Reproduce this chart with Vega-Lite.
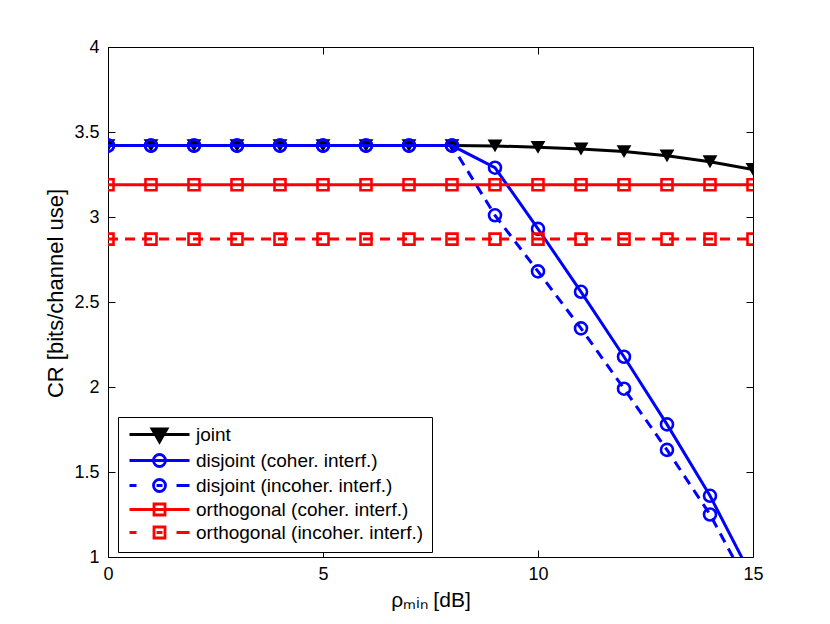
{
  "$schema": "https://vega.github.io/schema/vega-lite/v6.json",
  "width": 645,
  "height": 510,
  "autosize": {"type": "none"},
  "padding": {"left": 108, "top": 47, "right": 77, "bottom": 67},
  "background": "white",
  "data": {
    "values": [
      {"rho": 0, "cr": 3.42, "scheme": "joint"},
      {"rho": 1, "cr": 3.42, "scheme": "joint"},
      {"rho": 2, "cr": 3.42, "scheme": "joint"},
      {"rho": 3, "cr": 3.42, "scheme": "joint"},
      {"rho": 4, "cr": 3.42, "scheme": "joint"},
      {"rho": 5, "cr": 3.42, "scheme": "joint"},
      {"rho": 6, "cr": 3.42, "scheme": "joint"},
      {"rho": 7, "cr": 3.42, "scheme": "joint"},
      {"rho": 8, "cr": 3.42, "scheme": "joint"},
      {"rho": 9, "cr": 3.418, "scheme": "joint"},
      {"rho": 10, "cr": 3.41, "scheme": "joint"},
      {"rho": 11, "cr": 3.4, "scheme": "joint"},
      {"rho": 12, "cr": 3.385, "scheme": "joint"},
      {"rho": 13, "cr": 3.36, "scheme": "joint"},
      {"rho": 14, "cr": 3.325, "scheme": "joint"},
      {"rho": 15, "cr": 3.28, "scheme": "joint"},
      {"rho": 0, "cr": 3.42, "scheme": "disjoint (coher. interf.)"},
      {"rho": 1, "cr": 3.42, "scheme": "disjoint (coher. interf.)"},
      {"rho": 2, "cr": 3.42, "scheme": "disjoint (coher. interf.)"},
      {"rho": 3, "cr": 3.42, "scheme": "disjoint (coher. interf.)"},
      {"rho": 4, "cr": 3.42, "scheme": "disjoint (coher. interf.)"},
      {"rho": 5, "cr": 3.42, "scheme": "disjoint (coher. interf.)"},
      {"rho": 6, "cr": 3.42, "scheme": "disjoint (coher. interf.)"},
      {"rho": 7, "cr": 3.42, "scheme": "disjoint (coher. interf.)"},
      {"rho": 8, "cr": 3.42, "scheme": "disjoint (coher. interf.)"},
      {"rho": 9, "cr": 3.29, "scheme": "disjoint (coher. interf.)"},
      {"rho": 10, "cr": 2.93, "scheme": "disjoint (coher. interf.)"},
      {"rho": 11, "cr": 2.56, "scheme": "disjoint (coher. interf.)"},
      {"rho": 12, "cr": 2.178, "scheme": "disjoint (coher. interf.)"},
      {"rho": 13, "cr": 1.78, "scheme": "disjoint (coher. interf.)"},
      {"rho": 14, "cr": 1.36, "scheme": "disjoint (coher. interf.)"},
      {"rho": 15, "cr": 0.87, "scheme": "disjoint (coher. interf.)"},
      {"rho": 0, "cr": 3.42, "scheme": "disjoint (incoher. interf.)"},
      {"rho": 1, "cr": 3.42, "scheme": "disjoint (incoher. interf.)"},
      {"rho": 2, "cr": 3.42, "scheme": "disjoint (incoher. interf.)"},
      {"rho": 3, "cr": 3.42, "scheme": "disjoint (incoher. interf.)"},
      {"rho": 4, "cr": 3.42, "scheme": "disjoint (incoher. interf.)"},
      {"rho": 5, "cr": 3.42, "scheme": "disjoint (incoher. interf.)"},
      {"rho": 6, "cr": 3.42, "scheme": "disjoint (incoher. interf.)"},
      {"rho": 7, "cr": 3.42, "scheme": "disjoint (incoher. interf.)"},
      {"rho": 8, "cr": 3.42, "scheme": "disjoint (incoher. interf.)"},
      {"rho": 9, "cr": 3.01, "scheme": "disjoint (incoher. interf.)"},
      {"rho": 10, "cr": 2.68, "scheme": "disjoint (incoher. interf.)"},
      {"rho": 11, "cr": 2.345, "scheme": "disjoint (incoher. interf.)"},
      {"rho": 12, "cr": 1.99, "scheme": "disjoint (incoher. interf.)"},
      {"rho": 13, "cr": 1.63, "scheme": "disjoint (incoher. interf.)"},
      {"rho": 14, "cr": 1.25, "scheme": "disjoint (incoher. interf.)"},
      {"rho": 15, "cr": 0.78, "scheme": "disjoint (incoher. interf.)"},
      {"rho": 0, "cr": 3.19, "scheme": "orthogonal (coher. interf.)"},
      {"rho": 1, "cr": 3.19, "scheme": "orthogonal (coher. interf.)"},
      {"rho": 2, "cr": 3.19, "scheme": "orthogonal (coher. interf.)"},
      {"rho": 3, "cr": 3.19, "scheme": "orthogonal (coher. interf.)"},
      {"rho": 4, "cr": 3.19, "scheme": "orthogonal (coher. interf.)"},
      {"rho": 5, "cr": 3.19, "scheme": "orthogonal (coher. interf.)"},
      {"rho": 6, "cr": 3.19, "scheme": "orthogonal (coher. interf.)"},
      {"rho": 7, "cr": 3.19, "scheme": "orthogonal (coher. interf.)"},
      {"rho": 8, "cr": 3.19, "scheme": "orthogonal (coher. interf.)"},
      {"rho": 9, "cr": 3.19, "scheme": "orthogonal (coher. interf.)"},
      {"rho": 10, "cr": 3.19, "scheme": "orthogonal (coher. interf.)"},
      {"rho": 11, "cr": 3.19, "scheme": "orthogonal (coher. interf.)"},
      {"rho": 12, "cr": 3.19, "scheme": "orthogonal (coher. interf.)"},
      {"rho": 13, "cr": 3.19, "scheme": "orthogonal (coher. interf.)"},
      {"rho": 14, "cr": 3.19, "scheme": "orthogonal (coher. interf.)"},
      {"rho": 15, "cr": 3.19, "scheme": "orthogonal (coher. interf.)"},
      {"rho": 0, "cr": 2.87, "scheme": "orthogonal (incoher. interf.)"},
      {"rho": 1, "cr": 2.87, "scheme": "orthogonal (incoher. interf.)"},
      {"rho": 2, "cr": 2.87, "scheme": "orthogonal (incoher. interf.)"},
      {"rho": 3, "cr": 2.87, "scheme": "orthogonal (incoher. interf.)"},
      {"rho": 4, "cr": 2.87, "scheme": "orthogonal (incoher. interf.)"},
      {"rho": 5, "cr": 2.87, "scheme": "orthogonal (incoher. interf.)"},
      {"rho": 6, "cr": 2.87, "scheme": "orthogonal (incoher. interf.)"},
      {"rho": 7, "cr": 2.87, "scheme": "orthogonal (incoher. interf.)"},
      {"rho": 8, "cr": 2.87, "scheme": "orthogonal (incoher. interf.)"},
      {"rho": 9, "cr": 2.87, "scheme": "orthogonal (incoher. interf.)"},
      {"rho": 10, "cr": 2.87, "scheme": "orthogonal (incoher. interf.)"},
      {"rho": 11, "cr": 2.87, "scheme": "orthogonal (incoher. interf.)"},
      {"rho": 12, "cr": 2.87, "scheme": "orthogonal (incoher. interf.)"},
      {"rho": 13, "cr": 2.87, "scheme": "orthogonal (incoher. interf.)"},
      {"rho": 14, "cr": 2.87, "scheme": "orthogonal (incoher. interf.)"},
      {"rho": 15, "cr": 2.87, "scheme": "orthogonal (incoher. interf.)"}
    ]
  },
  "layer": [
    {
      "encoding": {
        "x": {
          "field": "rho", "type": "quantitative",
          "scale": {"domain": [0, 15], "nice": false, "zero": false},
          "axis": {"orient": "bottom", "values": [0, 5, 10, 15], "labelFlush": false, "title": "ρₘᵢₙ [dB]", "labelPadding": 15, "titlePadding": 6}
        },
        "y": {
          "field": "cr", "type": "quantitative",
          "scale": {"domain": [1, 4], "nice": false, "zero": false},
          "axis": {"orient": "left", "values": [1, 1.5, 2, 2.5, 3, 3.5, 4], "labelFlush": false, "format": "~g", "title": "CR [bits/channel use]", "titleFontSize": 22, "titleY": 246, "labelPadding": 16, "titlePadding": 6}
        },
        "color": {
          "field": "scheme", "type": "nominal",
          "scale": {
            "domain": ["joint", "disjoint (coher. interf.)", "disjoint (incoher. interf.)", "orthogonal (coher. interf.)", "orthogonal (incoher. interf.)"],
            "range": ["#000000", "#0000ff", "#0000ff", "#ff0000", "#ff0000"]
          },
          "legend": null
        }
      },
      "layer": [
        {"transform": [{"filter": "datum.scheme === 'joint'"}], "mark": {"type": "line", "strokeWidth": 3, "clip": true}},
        {"transform": [{"filter": "datum.scheme === 'joint'"}], "mark": {"type": "point", "shape": "triangle-down", "filled": true, "size": 220, "opacity": 1, "clip": true}},
        {"transform": [{"filter": "datum.scheme === 'disjoint (coher. interf.)'"}], "mark": {"type": "line", "strokeWidth": 3, "clip": true}},
        {"transform": [{"filter": "datum.scheme === 'disjoint (coher. interf.)'"}], "mark": {"type": "point", "shape": "circle", "filled": false, "size": 144, "strokeWidth": 2.6, "opacity": 1, "clip": true}},
        {"transform": [{"filter": "datum.scheme === 'disjoint (incoher. interf.)'"}], "mark": {"type": "line", "strokeWidth": 3, "strokeDash": [10, 7], "clip": true}},
        {"transform": [{"filter": "datum.scheme === 'disjoint (incoher. interf.)'"}], "mark": {"type": "point", "shape": "circle", "filled": false, "size": 144, "strokeWidth": 2.6, "opacity": 1, "clip": true}},
        {"transform": [{"filter": "datum.scheme === 'orthogonal (coher. interf.)'"}], "mark": {"type": "line", "strokeWidth": 3, "clip": true}},
        {"transform": [{"filter": "datum.scheme === 'orthogonal (coher. interf.)'"}], "mark": {"type": "point", "shape": "square", "filled": false, "size": 121, "strokeWidth": 2.6, "opacity": 1, "clip": true}},
        {"transform": [{"filter": "datum.scheme === 'orthogonal (incoher. interf.)'"}], "mark": {"type": "line", "strokeWidth": 3, "strokeDash": [10, 7], "clip": true}},
        {"transform": [{"filter": "datum.scheme === 'orthogonal (incoher. interf.)'"}], "mark": {"type": "point", "shape": "square", "filled": false, "size": 121, "strokeWidth": 2.6, "opacity": 1, "clip": true}}
      ]
    },
    {
      "transform": [{"filter": "false"}],
      "mark": {"type": "point", "shape": "circle", "filled": false, "size": 100, "strokeWidth": 2.8, "opacity": 1},
      "encoding": {
        "color": {
          "field": "scheme", "type": "nominal",
          "scale": {
            "domain": ["joint", "disjoint (coher. interf.)", "disjoint (incoher. interf.)", "orthogonal (coher. interf.)", "orthogonal (incoher. interf.)"],
            "range": ["#000000", "#0000ff", "#0000ff", "#ff0000", "#ff0000"]
          },
          "legend": {
            "title": null,
            "orient": "none",
            "legendX": 10,
            "legendY": 370,
            "direction": "vertical",
            "columns": 1,
            "padding": 8,
            "strokeColor": "black",
            "fillColor": "white",
            "labelFont": "Liberation Sans",
            "labelFontSize": 19,
            "labelColor": "black",
            "labelLimit": 0,
            "labelOffset": 51,
            "rowPadding": 0,
            "symbolSize": 100,
            "symbolStrokeWidth": 2.8,
            "symbolOpacity": 1,
            "encoding": {
              "symbols": {
                "shape": {
                  "condition": [
                    {"test": "datum.value === 'joint'", "value": "M-1.2,0L10.8,0M3.3,-1.1L6.3,-1.1L4.8,1.5Z"},
                    {"test": "datum.value === 'disjoint (coher. interf.)'", "value": "M-1.2,0L10.8,0M6,0A1.2,1.2,0,1,1,3.6,0A1.2,1.2,0,1,1,6,0Z"},
                    {"test": "datum.value === 'disjoint (incoher. interf.)'", "value": "M-1.2,0L0.2,0M8.2,0L10.8,0M4.2,0L5.4,0M6,0A1.2,1.2,0,1,1,3.6,0A1.2,1.2,0,1,1,6,0Z"},
                    {"test": "datum.value === 'orthogonal (coher. interf.)'", "value": "M-1.2,0L10.8,0M3.7,-1.1L5.9,-1.1L5.9,1.1L3.7,1.1Z"}
                  ],
                  "value": "M-1.2,0L0.2,0M8.2,0L10.8,0M4.2,0L5.4,0M3.7,-1.1L5.9,-1.1L5.9,1.1L3.7,1.1Z"
                },
                "fill": {"condition": {"test": "datum.value === 'joint'", "value": "black"}, "value": "transparent"},
                "strokeWidth": {"value": 2.8},
                "opacity": {"value": 1},
                "size": {"value": 100}
              }
            }
          }
        }
      }
    },
    {
      "mark": {"type": "point", "opacity": 0},
      "encoding": {
        "x": {
          "field": "rho", "type": "quantitative",
          "scale": {"domain": [0, 15], "nice": false, "zero": false},
          "axis": {"orient": "top", "values": [0, 5, 10, 15], "labels": false, "title": null}
        },
        "y": {
          "field": "cr", "type": "quantitative",
          "scale": {"domain": [1, 4], "nice": false, "zero": false},
          "axis": {"orient": "right", "values": [1, 1.5, 2, 2.5, 3, 3.5, 4], "labels": false, "title": null}
        }
      }
    }
  ],
  "resolve": {"axis": {"x": "independent", "y": "independent"}, "legend": {"color": "independent"}},
  "config": {
    "font": "Liberation Sans",
    "view": {"stroke": "black", "strokeWidth": 1},
    "axis": {
      "domain": false,
      "grid": false,
      "tickColor": "black",
      "tickWidth": 1,
      "tickSize": -7,
      "labelColor": "black",
      "labelFont": "Liberation Sans",
      "labelFontSize": 18,
      "titleFont": "Liberation Sans",
      "titleFontSize": 21,
      "titleFontWeight": "normal",
      "titleColor": "black"
    }
  }
}
